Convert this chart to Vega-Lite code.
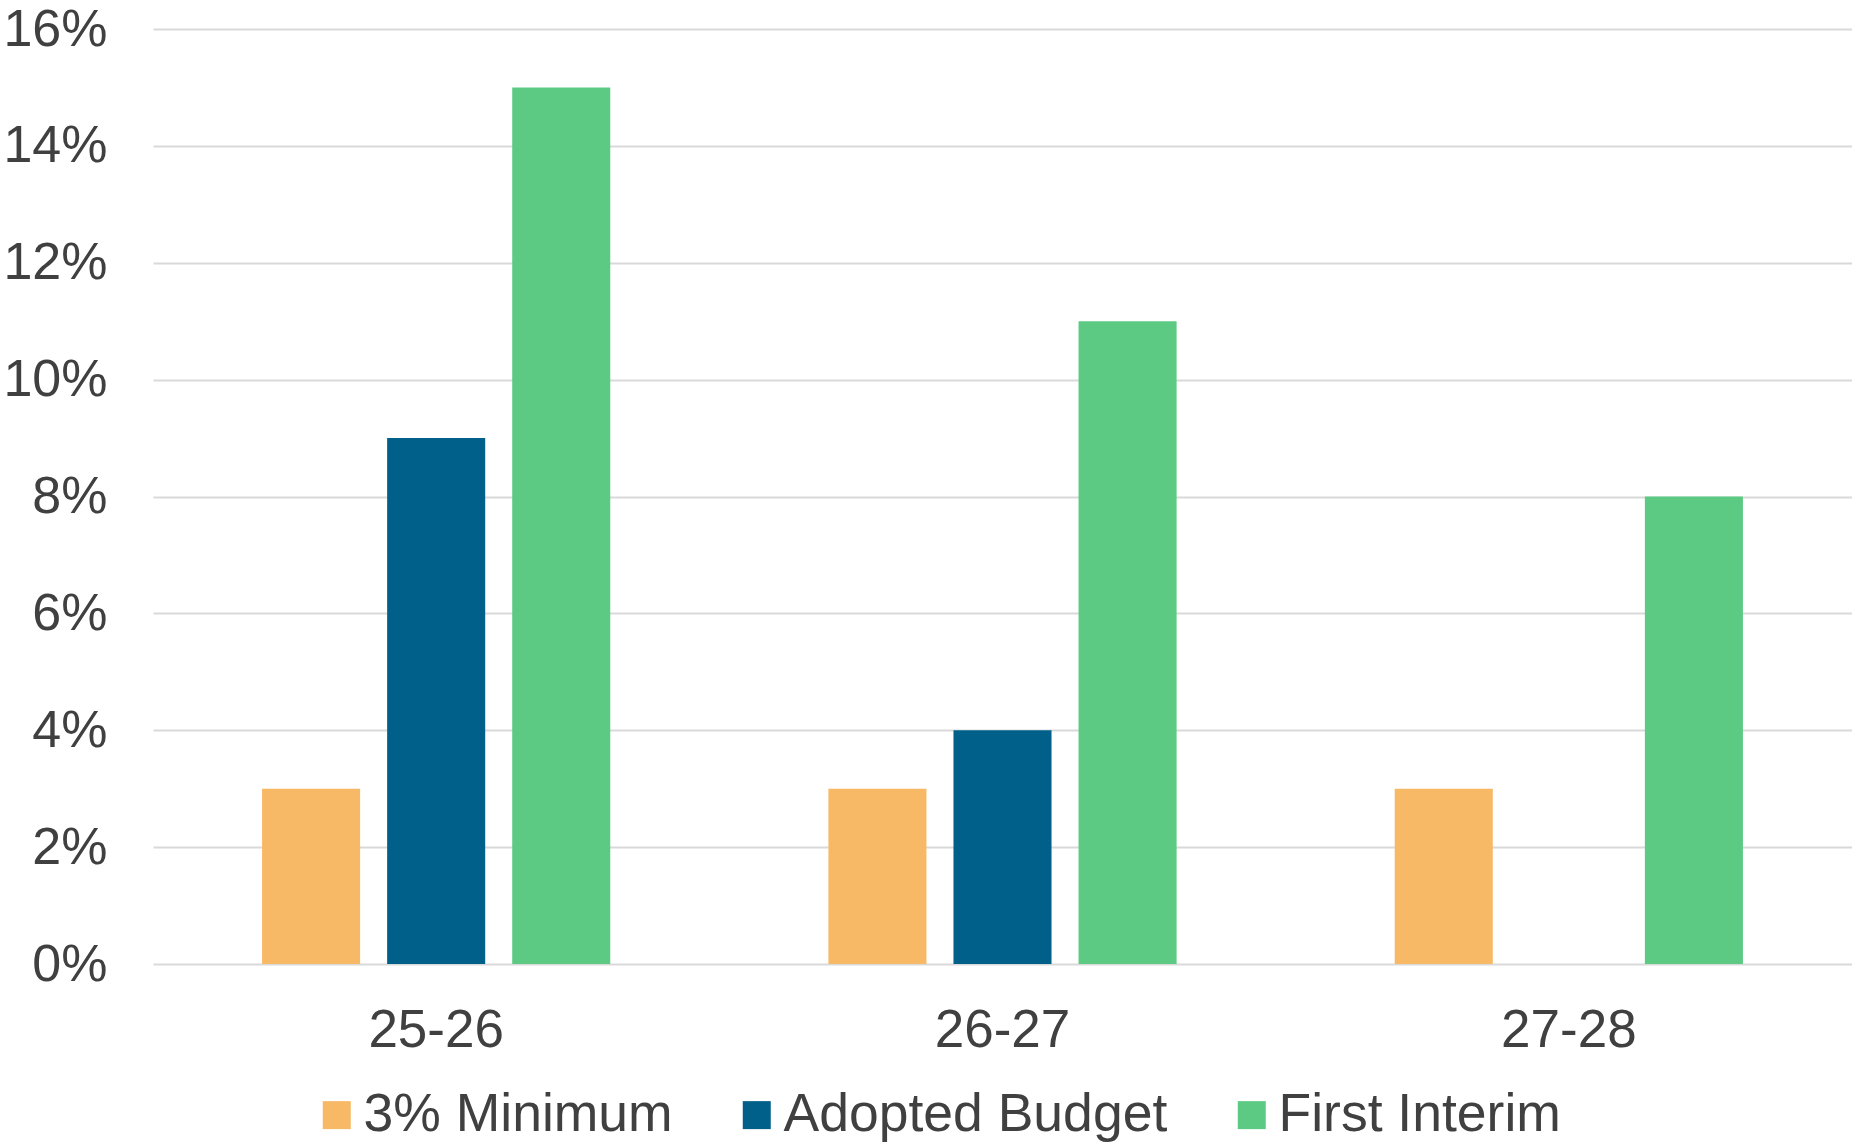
{
  "$schema": "https://vega.github.io/schema/vega-lite/v6.json",
  "width": 1699,
  "height": 935,
  "autosize": {"type": "none"},
  "padding": {"left": 153, "top": 29, "right": 0, "bottom": 180},
  "background": "white",
  "config": {"view": {"stroke": null}, "font": "Liberation Sans"},
  "data": {
    "values": [
      {"year": "25-26", "series": "3% Minimum", "value": 0.03},
      {"year": "25-26", "series": "Adopted Budget", "value": 0.09},
      {"year": "25-26", "series": "First Interim", "value": 0.15},
      {"year": "26-27", "series": "3% Minimum", "value": 0.03},
      {"year": "26-27", "series": "Adopted Budget", "value": 0.04},
      {"year": "26-27", "series": "First Interim", "value": 0.11},
      {"year": "27-28", "series": "3% Minimum", "value": 0.03},
      {"year": "27-28", "series": "First Interim", "value": 0.08}
    ]
  },
  "mark": {"type": "bar"},
  "encoding": {
    "x": {
      "field": "year",
      "type": "nominal",
      "scale": {"paddingInner": 0, "paddingOuter": 0},
      "axis": {
        "title": null,
        "labelAngle": 0,
        "labelFontSize": 53,
        "labelColor": "#404040",
        "ticks": false,
        "domain": false,
        "grid": false,
        "labelPadding": 40
      }
    },
    "xOffset": {
      "field": "series",
      "type": "nominal",
      "sort": ["3% Minimum", "Adopted Budget", "First Interim"],
      "scale": {"domain": ["3% Minimum", "Adopted Budget", "First Interim"], "paddingInner": 0.216, "paddingOuter": 0.872}
    },
    "y": {
      "field": "value",
      "type": "quantitative",
      "scale": {"domain": [0, 0.16]},
      "axis": {
        "title": null,
        "format": ".0%",
        "values": [0, 0.02, 0.04, 0.06, 0.08, 0.1, 0.12, 0.14, 0.16],
        "domain": false,
        "ticks": false,
        "labelFontSize": 52,
        "labelColor": "#404040",
        "labelPadding": 46,
        "gridColor": "#d9d9d9",
        "gridWidth": 2
      }
    },
    "color": {
      "field": "series",
      "type": "nominal",
      "sort": ["3% Minimum", "Adopted Budget", "First Interim"],
      "scale": {
        "domain": ["3% Minimum", "Adopted Budget", "First Interim"],
        "range": ["#F8B966", "#01608A", "#5DCA84"]
      },
      "legend": {
        "title": null,
        "orient": "none",
        "legendX": 157,
        "legendY": 1059,
        "direction": "horizontal",
        "symbolType": "square",
        "symbolSize": 784,
        "symbolStrokeWidth": 0,
        "symbolOpacity": 1,
        "labelFontSize": 53.5,
        "labelColor": "#404040",
        "labelLimit": 1000,
        "labelOffset": 0,
        "columnPadding": 57,
        "padding": 0
      }
    }
  }
}
